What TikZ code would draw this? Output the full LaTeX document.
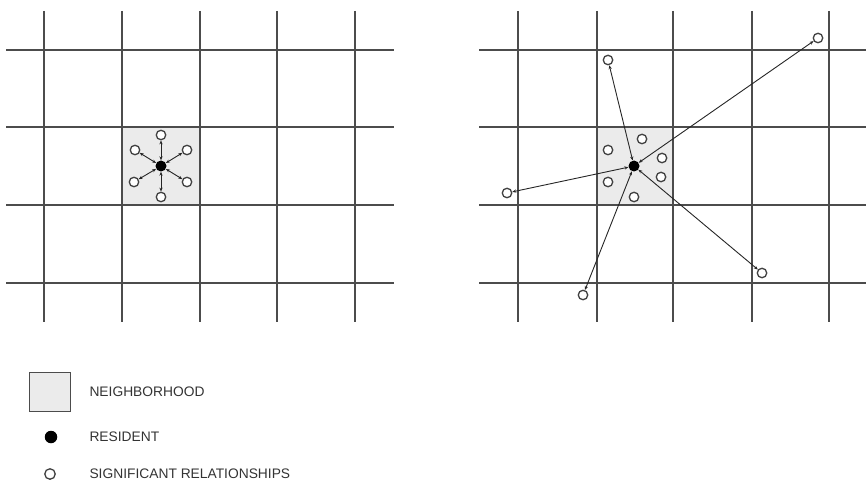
\documentclass[tikz,border=0pt]{standalone}
\usepackage{fontspec}
\setmainfont{Liberation Sans}
\usetikzlibrary{arrows.meta}

\begin{document}
\begin{tikzpicture}[
    x=1pt, y=-1pt,
    >={Stealth[length=4pt,width=3.2pt]},
    gridline/.style={draw=black!70, line width=1.3pt},
    hood/.style={fill=black!8},
    resident/.style={circle, fill=black, inner sep=0pt, minimum size=#1},
    resident/.default=11pt,
    sig/.style={circle, draw=black!75, line width=1.3pt, fill=white, inner sep=0pt, minimum size=#1},
    sig/.default=9.5pt,
    tie/.style={<->, line width=0.9pt, draw=black!85},
    legend/.style={anchor=west, font=\fontsize{13.8}{16}\selectfont, text=black!80}
]
\useasboundingbox (0,0) rectangle (866,486);

% Neighborhoods
\fill[hood] (122,127) rectangle (200,205);
\fill[hood] (597,127) rectangle (673,205);

% Left grid
\draw[gridline] (6,50) -- (394,50) (6,127) -- (394,127) (6,205) -- (394,205) (6,283) -- (394,283);
\draw[gridline] (44,11) -- (44,322) (122,11) -- (122,322) (200,11) -- (200,322)
    (277,11) -- (277,322) (355,11) -- (355,322);

% Right grid
\draw[gridline] (479,50) -- (866,50) (479,127) -- (866,127) (479,205) -- (866,205) (479,283) -- (866,283);
\draw[gridline] (518,11) -- (518,322) (597,11) -- (597,322) (673,11) -- (673,322)
    (752,11) -- (752,322) (829,11) -- (829,322);

% Left: all relationships inside the neighborhood
\node[resident] (resA) at (161,166) {};
\node[sig] (a1) at (161,135) {};
\node[sig] (a2) at (187,150) {};
\node[sig] (a3) at (187,182) {};
\node[sig] (a4) at (161,197) {};
\node[sig] (a5) at (134,182) {};
\node[sig] (a6) at (135,150) {};

\draw[tie] (resA) -- (a1);
\draw[tie] (resA) -- (a2);
\draw[tie] (resA) -- (a3);
\draw[tie] (resA) -- (a4);
\draw[tie] (resA) -- (a5);
\draw[tie] (resA) -- (a6);

% Right: relationships spread over the city
\node[resident] (resB) at (634,166) {};
\node[sig] (b1) at (642,139) {};
\node[sig] (b2) at (608,150) {};
\node[sig] (b3) at (662,158) {};
\node[sig] (b4) at (661,177) {};
\node[sig] (b5) at (608,182) {};
\node[sig] (b6) at (634,197) {};

\node[sig] (f1) at (818,38) {};
\node[sig] (f2) at (608,60) {};
\node[sig] (f3) at (507,193) {};
\node[sig] (f4) at (762,273) {};
\node[sig] (f5) at (583,295) {};

\draw[tie] (resB) -- (f1);
\draw[tie] (resB) -- (f2);
\draw[tie] (resB) -- (f3);
\draw[tie] (resB) -- (f4);
\draw[tie] (resB) -- (f5);

% Legend
\node[draw=black!70, line width=1.2pt, fill=black!8, minimum width=41pt, minimum height=39pt] (keyhood) at (50,392) {};
\node[legend] (txthood) at (86,392) {NEIGHBORHOOD};
\node[resident=12.5pt] (keyres) at (51,437) {};
\node[legend] (txtres) at (86,437) {RESIDENT};
\node[sig=10.5pt] (keysig) at (50,474) {};
\node[legend] (txtsig) at (86,474) {SIGNIFICANT RELATIONSHIPS};

\end{tikzpicture}
\end{document}
